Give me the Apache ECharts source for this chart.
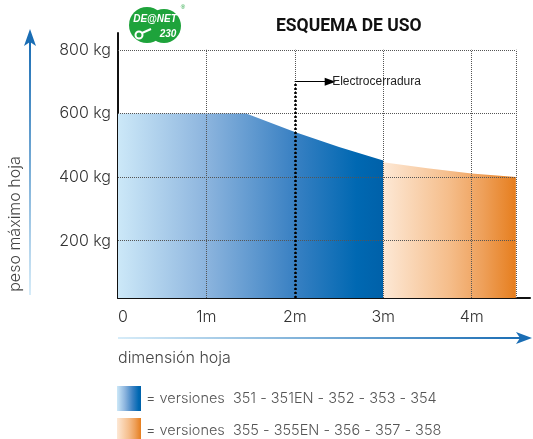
<!DOCTYPE html>
<html>
<head>
<meta charset="utf-8">
<script src="https://cdn.jsdelivr.net/npm/echarts@6/dist/echarts.min.js"></script>
<style>
  html, body { margin: 0; padding: 0; background: #ffffff; }
  #chart { width: 533px; height: 439px; }
</style>
</head>
<body>
<div id="chart"></div>
<script>
// Maximum leaf weight (kg) against leaf width (m) for each family of versions
const versionGroups = [
  '= versiones  351 - 351EN - 352 - 353 - 354',
  '= versiones  355 - 355EN - 356 - 357 - 358'
];
const blueLimit = [[0, 600], [1.45, 600], [2, 542], [2.5, 495], [3, 452]];
const orangeLimit = [[3, 447], [3.5, 428], [4, 411], [4.5, 400]];

// Axis ticks, labels and grid
const xLabelValues = [0, 1, 2, 3, 4];
const yLabelValues = [200, 400, 600, 800];
const xGridValues = [1, 2, 3, 4, 4.5];
const yGridValues = [200, 400, 600, 800];
const xGridEnd = 4.5;
const yGridTop = 800;
const xAxisEnd = 4.66;
const yAxisFloor = 20;
const yAxisEnd = 853;

// Electric lock marker
const lockX = 2;
const lockHeight = 700;
const lockArrowTip = 2.4;
const lockLabel = 'Electrocerradura';

const titleText = 'ESQUEMA DE USO';
const yName = 'peso máximo hoja';
const xName = 'dimensión hoja';

const FONT = 'Inter';

const blueFill = {
  type: 'linear', x: 0, y: 0, x2: 1, y2: 0,
  colorStops: [
    { offset: 0, color: '#cce8f8' },
    { offset: 0.33, color: '#8db5de' },
    { offset: 0.66, color: '#3a81c3' },
    { offset: 0.9, color: '#0068b2' },
    { offset: 1, color: '#0061a9' }
  ]
};
const orangeFill = {
  type: 'linear', x: 0, y: 0, x2: 1, y2: 0,
  colorStops: [
    { offset: 0, color: '#fde8d5' },
    { offset: 0.5, color: '#f5bd8a' },
    { offset: 0.75, color: '#eea05a' },
    { offset: 1, color: '#e67e1e' }
  ]
};
const arrowUp = {
  type: 'linear', x: 0, y: 1, x2: 0, y2: 0,
  colorStops: [{ offset: 0, color: '#d8edf9' }, { offset: 1, color: '#1a6db4' }]
};
const arrowRight = {
  type: 'linear', x: 0, y: 0, x2: 1, y2: 0,
  colorStops: [{ offset: 0, color: '#d8edf9' }, { offset: 1, color: '#1a6db4' }]
};

const gridLineStyle = { type: 'dotted', color: '#555', width: 1 };

const gridLines = []
  .concat(yGridValues.map(v => [{ coord: [0, v] }, { coord: [xGridEnd, v] }]))
  .concat(xGridValues.map(v => [{ coord: [v, yAxisFloor] }, { coord: [v, yGridTop] }]));

const chart = echarts.init(document.getElementById('chart'), null, { renderer: 'canvas' });

chart.setOption({
  animation: false,
  backgroundColor: '#ffffff',
  grid: { left: 118, right: 3, top: 33, bottom: 141 },
  xAxis: {
    type: 'value',
    min: 0,
    max: xAxisEnd,
    axisLine: { show: true, lineStyle: { color: '#111', width: 2 } },
    axisTick: { show: false },
    splitLine: { show: false },
    axisLabel: {
      customValues: xLabelValues,
      formatter: v => (v === 0 ? '0' : v + 'm'),
      alignMinLabel: 'left',
      margin: 11,
      color: '#333',
      fontSize: 16,
      fontFamily: FONT,
      fontWeight: 300
    }
  },
  yAxis: {
    type: 'value',
    min: yAxisFloor,
    max: yAxisEnd,
    axisLine: { show: true, lineStyle: { color: '#111', width: 2 } },
    axisTick: { show: false },
    splitLine: { show: false },
    axisLabel: {
      customValues: yLabelValues,
      formatter: '{value} kg',
      margin: 7,
      color: '#333',
      fontSize: 16,
      fontFamily: FONT,
      fontWeight: 300
    }
  },
  series: [
    {
      name: versionGroups[0],
      type: 'line',
      data: blueLimit,
      showSymbol: false,
      lineStyle: { width: 0 },
      areaStyle: { color: blueFill, opacity: 1 },
      z: 2
    },
    {
      name: versionGroups[1],
      type: 'line',
      data: orangeLimit,
      showSymbol: false,
      lineStyle: { width: 0 },
      areaStyle: { color: orangeFill, opacity: 1 },
      z: 2
    },
    {
      name: 'grid',
      type: 'line',
      data: [],
      z: 5,
      silent: true,
      markLine: {
        silent: true,
        symbol: ['none', 'none'],
        label: { show: false },
        lineStyle: gridLineStyle,
        emphasis: { disabled: true },
        data: gridLines
      }
    },
    {
      name: 'lock',
      type: 'line',
      data: [],
      z: 6,
      silent: true,
      markLine: {
        silent: true,
        emphasis: { disabled: true },
        data: [
          [
            { coord: [lockX, yAxisFloor], symbol: 'none',
              lineStyle: { type: [2, 2], color: '#000', width: 2.5 }, label: { show: false } },
            { coord: [lockX, lockHeight], symbol: 'none' }
          ],
          [
            { coord: [lockX, lockHeight], symbol: 'none',
              lineStyle: { type: 'solid', color: '#000', width: 1.2 },
              label: { show: true, position: 'end', formatter: lockLabel, color: '#222',
                fontSize: 12, fontFamily: 'Liberation Sans', distance: 2 } },
            { coord: [lockArrowTip, lockHeight], symbol: 'triangle', symbolSize: [8, 11] }
          ]
        ]
      }
    }
  ],
  graphic: [
    // title
    { type: 'text', left: 276, top: 18, style: { text: titleText, fill: '#111',
      font: 'bold 17.5px Roboto' } },
    // brand badge
    { type: 'group', left: 129, top: 4, children: [
      { type: 'circle', shape: { cx: 18, cy: 20, r: 18 }, style: { fill: '#1ea33b' } },
      { type: 'circle', shape: { cx: 35, cy: 21, r: 17 }, style: { fill: '#1ea33b' } },
      { type: 'text', x: 26, y: 14, style: { text: 'DE@NET', fill: '#fff',
        font: 'italic bold 10px Liberation Sans', align: 'center', verticalAlign: 'middle' } },
      { type: 'text', x: 39, y: 29, style: { text: '230', fill: '#fff',
        font: 'italic bold 10px Liberation Sans', align: 'center', verticalAlign: 'middle' } },
      { type: 'circle', shape: { cx: 10, cy: 30, r: 3.5 }, style: { fill: 'none', stroke: '#fff', lineWidth: 2 } },
      { type: 'line', shape: { x1: 13, y1: 28, x2: 22, y2: 24 }, style: { stroke: '#fff', lineWidth: 2 } },
      { type: 'text', x: 54, y: 2, style: { text: '®', fill: '#1ea33b',
        font: '6px Liberation Sans', align: 'center', verticalAlign: 'middle' } }
    ] },
    // vertical axis caption and arrow
    { type: 'line', shape: { x1: 30, y1: 295, x2: 30, y2: 42 }, style: { stroke: arrowUp, lineWidth: 2 } },
    { type: 'polygon', shape: { points: [[30, 29], [36, 46], [30, 42], [24, 46]] }, style: { fill: '#1a6db4' } },
    { type: 'text', x: 15, y: 224, rotation: Math.PI / 2, style: { text: yName, fill: '#444',
      font: '300 16px Inter', align: 'center', verticalAlign: 'middle' } },
    // horizontal axis caption and arrow
    { type: 'line', shape: { x1: 118, y1: 338, x2: 520, y2: 338 }, style: { stroke: arrowRight, lineWidth: 2 } },
    { type: 'polygon', shape: { points: [[532, 338], [516, 332], [520, 338], [516, 344]] }, style: { fill: '#1a6db4' } },
    { type: 'text', x: 118, y: 358, style: { text: xName, fill: '#444',
      font: '300 16px Inter', align: 'left', verticalAlign: 'middle' } },
    // version key
    { type: 'rect', shape: { x: 117, y: 386, width: 24, height: 25 }, style: { fill: blueFill } },
    { type: 'text', x: 146, y: 399, style: { text: versionGroups[0], fill: '#555',
      font: '300 14.5px Inter', verticalAlign: 'middle' } },
    { type: 'rect', shape: { x: 117, y: 418, width: 24, height: 25 }, style: { fill: orangeFill } },
    { type: 'text', x: 146, y: 431, style: { text: versionGroups[1], fill: '#555',
      font: '300 14.5px Inter', verticalAlign: 'middle' } }
  ]
});
</script>
</body>
</html>
